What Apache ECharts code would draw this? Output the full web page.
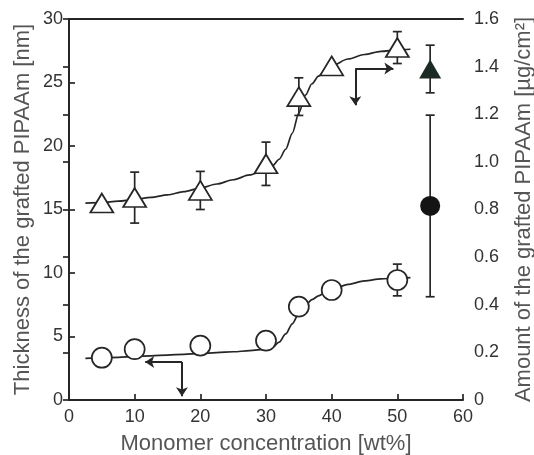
<!DOCTYPE html>
<html><head><meta charset="utf-8">
<script src="https://cdn.jsdelivr.net/npm/echarts@6/dist/echarts.min.js"></script>
<style>html,body{margin:0;padding:0;background:#fff}#c{width:534px;height:455px}</style>
</head><body><div id="c"></div>
<script>
// ---- data ----
const concentration = [5, 10, 20, 30, 35, 40, 50];               // wt%
const amountTri = [0.827, 0.850, 0.880, 0.992, 1.274, 1.403, 1.480]; // µg/cm2 (open triangles, right axis)
const amountTriErr = [0, 0.107, 0.080, 0.091, 0.079, 0, 0.067];
const thickCirc = [3.33, 4.00, 4.28, 4.67, 7.35, 8.66, 9.45];     // nm (open circles, left axis)
const thickCircErr = [0, 0, 0, 0, 0, 0, 1.25];
const refX = [55];
const refAmount = [1.39];      // filled triangle
const refAmountErr = [0.10];
const refThick = [15.28];      // filled circle
const refThickErr = [7.15];
// fitted curves
const amountCurveX = [2.5, 5, 7.5, 10, 12.5, 15, 17.5, 20, 22.5, 25, 27.5, 30, 31, 32, 33, 34, 35, 36, 37, 38, 39, 40, 42.5, 45, 47.5, 50, 52];
const amountCurveY = [0.827, 0.829, 0.835, 0.842, 0.851, 0.861, 0.875, 0.890, 0.907, 0.925, 0.945, 0.968, 0.984, 1.011, 1.053, 1.120, 1.205, 1.280, 1.328, 1.360, 1.384, 1.403, 1.432, 1.451, 1.464, 1.471, 1.473];
const thickCurveX = [2.5, 5, 7.5, 10, 12.5, 15, 17.5, 20, 22.5, 25, 27.5, 30, 31, 32, 33, 34, 35, 36, 37, 38, 39, 40, 42.5, 45, 47.5, 50, 52];
const thickCurveY = [3.28, 3.31, 3.36, 3.42, 3.48, 3.54, 3.60, 3.66, 3.73, 3.80, 3.88, 4.00, 4.15, 4.55, 5.20, 6.00, 6.80, 7.45, 7.90, 8.20, 8.45, 8.68, 9.10, 9.38, 9.53, 9.60, 9.63];
// pointer arrows (data units)
const arrowThickCorner = [17.2, 3.0], arrowThickLeftEnd = [11.6, 3.0], arrowThickDownEnd = [17.2, 0.3];
const arrowAmtCorner = [43.6, 1.392], arrowAmtRightEnd = [49.4, 1.392], arrowAmtDownEnd = [43.6, 1.238];
// axis ticks
const xTicks = {min: 0, max: 60, interval: 10};
const yLeftTicks = {min: 0, max: 30, interval: 5};
const yRightTicks = {min: 0, max: 1.6, interval: 0.2};

// ---- chart ----
const INK = '#262626';
const FONT = 'Liberation Sans, Arial, sans-serif';
const zip = (xs, ys) => xs.map((x, i) => [x, ys[i]]);
const errData = (xs, ys, es) => xs.map((x, i) => [x, ys[i] - es[i], ys[i] + es[i]]).filter((d, i) => es[i] > 0);

function errItem(params, api) {
  const x = api.value(0), lo = api.value(1), hi = api.value(2);
  const a = api.coord([x, hi]), b = api.coord([x, lo]);
  const hw = 4.5;
  const st = {stroke: INK, lineWidth: 1.7};
  return {type: 'group', children: [
    {type: 'line', shape: {x1: a[0], y1: a[1], x2: b[0], y2: b[1]}, style: st},
    {type: 'line', shape: {x1: a[0] - hw, y1: a[1], x2: a[0] + hw, y2: a[1]}, style: st},
    {type: 'line', shape: {x1: b[0] - hw, y1: b[1], x2: b[0] + hw, y2: b[1]}, style: st}
  ]};
}

const axisCommon = {
  axisLine: {show: true, lineStyle: {color: INK, width: 2}},
  axisTick: {show: true, inside: true, length: 6, lineStyle: {color: INK, width: 1.7}},
  splitLine: {show: false},
  axisLabel: {color: '#333', fontSize: 18, fontFamily: FONT},
  nameTextStyle: {color: '#555', fontSize: 22, fontFamily: FONT},
  nameMoveOverlap: false
};

const chart = echarts.init(document.getElementById('c'), null, {renderer: 'canvas'});
chart.setOption({
  backgroundColor: '#fff',
  animation: false,
  grid: {left: 69, right: 71, top: 19, bottom: 55, containLabel: false, outerBoundsMode: 'none'},
  xAxis: [
    Object.assign({}, axisCommon, {type: 'value', min: xTicks.min, max: xTicks.max, interval: xTicks.interval,
      name: 'Monomer concentration [wt%]', nameLocation: 'middle', nameGap: 33,
      axisLabel: Object.assign({}, axisCommon.axisLabel, {margin: 8})}),
    {type: 'value', position: 'top', min: 0, max: 60, axisLine: {show: true, onZero: false, lineStyle: {color: INK, width: 2}},
      axisTick: {show: false}, axisLabel: {show: false}, splitLine: {show: false}}
  ],
  yAxis: [
    Object.assign({}, axisCommon, {type: 'value', position: 'left', min: yLeftTicks.min, max: yLeftTicks.max, interval: yLeftTicks.interval,
      name: 'Thickness of the grafted PIPAAm [nm]', nameLocation: 'middle', nameRotate: 90, nameGap: 35,
      axisLabel: Object.assign({}, axisCommon.axisLabel, {margin: 6})}),
    Object.assign({}, axisCommon, {type: 'value', position: 'right', min: yRightTicks.min, max: yRightTicks.max, interval: yRightTicks.interval,
      name: 'Amount of the grafted PIPAAm [µg/cm²]', nameLocation: 'middle', nameRotate: 90, nameGap: 50,
      axisLabel: Object.assign({}, axisCommon.axisLabel, {margin: 11, formatter: v => v === 0 ? '0' : v.toFixed(1)})})
  ],
  series: [
    {type: 'line', yAxisIndex: 1, data: zip(amountCurveX, amountCurveY), smooth: 0.3, smoothMonotone: 'x', showSymbol: false,
      lineStyle: {color: INK, width: 1.7}, z: 2, silent: true},
    {type: 'line', yAxisIndex: 0, data: zip(thickCurveX, thickCurveY), smooth: 0.3, smoothMonotone: 'x', showSymbol: false,
      lineStyle: {color: INK, width: 1.7}, z: 2, silent: true},
    {type: 'custom', yAxisIndex: 1, renderItem: errItem, data: errData(concentration, amountTri, amountTriErr), z: 1, encode: {x: 0, y: [1, 2]}},
    {type: 'custom', yAxisIndex: 0, renderItem: errItem, data: errData(concentration, thickCirc, thickCircErr), z: 1, encode: {x: 0, y: [1, 2]}},
    {type: 'custom', yAxisIndex: 1, renderItem: errItem, data: errData(refX, refAmount, refAmountErr), z: 1, encode: {x: 0, y: [1, 2]}},
    {type: 'custom', yAxisIndex: 0, renderItem: errItem, data: errData(refX, refThick, refThickErr), z: 1, encode: {x: 0, y: [1, 2]}},
    {type: 'scatter', yAxisIndex: 1, data: zip(concentration, amountTri), symbol: 'triangle', symbolSize: [23, 19],
      itemStyle: {color: '#fff', borderColor: INK, borderWidth: 1.7, opacity: 1}, z: 5},
    {type: 'scatter', yAxisIndex: 0, data: zip(concentration, thickCirc), symbol: 'circle', symbolSize: 20,
      itemStyle: {color: '#fff', borderColor: INK, borderWidth: 1.7, opacity: 1}, z: 5},
    {type: 'scatter', yAxisIndex: 1, data: zip(refX, refAmount), symbol: 'triangle', symbolSize: [22, 19],
      itemStyle: {color: '#1c2a24', opacity: 1}, z: 5},
    {type: 'scatter', yAxisIndex: 0, data: zip(refX, refThick), symbol: 'circle', symbolSize: 20,
      itemStyle: {color: '#141414', opacity: 1}, z: 5},
    {type: 'lines', coordinateSystem: 'cartesian2d', yAxisIndex: 0, symbol: ['none', 'arrow'], symbolSize: 9,
      lineStyle: {color: INK, width: 2, opacity: 1}, z: 4,
      data: [{coords: [arrowThickCorner, arrowThickLeftEnd]}, {coords: [arrowThickCorner, arrowThickDownEnd]}]},
    {type: 'lines', coordinateSystem: 'cartesian2d', yAxisIndex: 1, symbol: ['none', 'arrow'], symbolSize: 9,
      lineStyle: {color: INK, width: 2, opacity: 1}, z: 4,
      data: [{coords: [arrowAmtCorner, arrowAmtRightEnd]}, {coords: [arrowAmtCorner, arrowAmtDownEnd]}]}
  ]
});
</script></body></html>
